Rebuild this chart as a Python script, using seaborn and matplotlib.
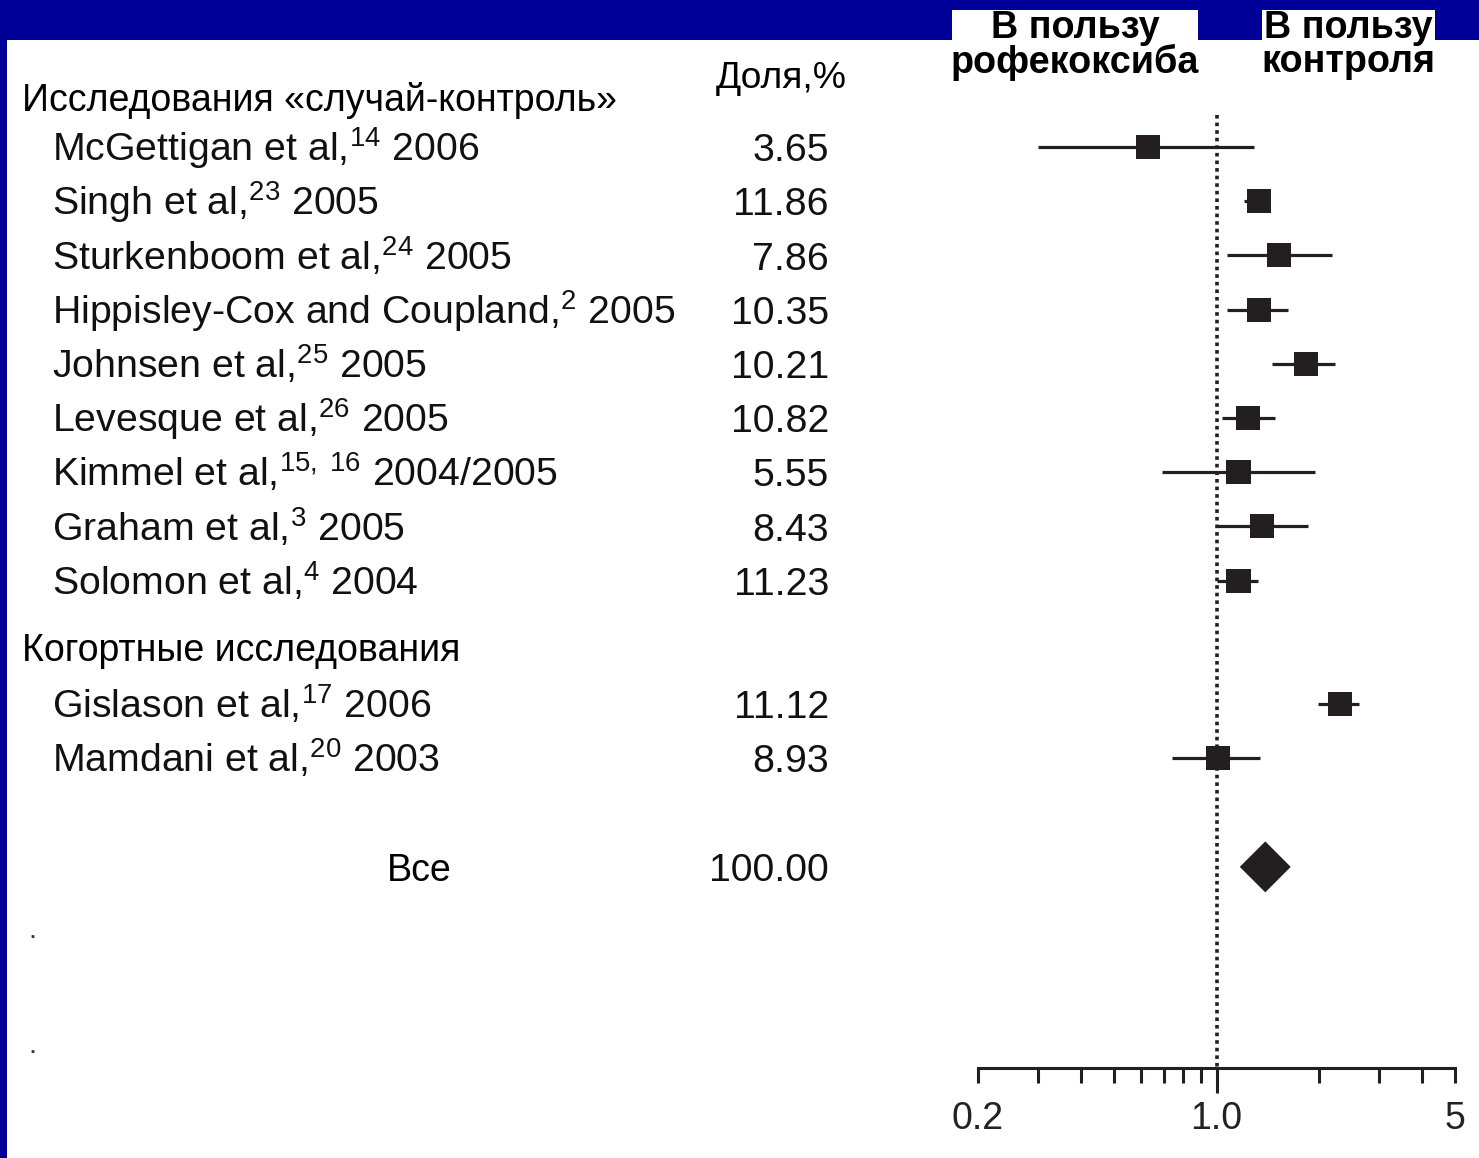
import numpy as np
import pandas as pd
import matplotlib
matplotlib.use("Agg")
import matplotlib.pyplot as plt
import seaborn as sns
from matplotlib.patches import Rectangle
from matplotlib.ticker import FixedLocator, FixedFormatter
from matplotlib.transforms import blended_transform_factory

# ---------------- data ----------------
cc_names = ["McGettigan et al,", "Singh et al,", "Sturkenboom et al,",
            "Hippisley-Cox and Coupland,", "Johnsen et al,", "Levesque et al,",
            "Kimmel et al,", "Graham et al,", "Solomon et al,"]
cc_refs = ["14", "23", "24", "2", "25", "26", "15,\\ 16", "3", "4"]
cc_years = ["2006", "2005", "2005", "2005", "2005", "2005", "2004/2005", "2005", "2004"]
cc_weights = ["3.65", "11.86", "7.86", "10.35", "10.21", "10.82", "5.55", "8.43", "11.23"]
cc_or = [0.63, 1.33, 1.52, 1.33, 1.83, 1.24, 1.16, 1.36, 1.16]
cc_lo = [0.30, 1.20, 1.07, 1.07, 1.45, 1.04, 0.69, 1.00, 1.00]
cc_hi = [1.29, 1.40, 2.18, 1.62, 2.23, 1.48, 1.95, 1.85, 1.32]

co_names = ["Gislason et al,", "Mamdani et al,"]
co_refs = ["17", "20"]
co_years = ["2006", "2003"]
co_weights = ["11.12", "8.93"]
co_or = [2.30, 1.01]
co_lo = [1.99, 0.74]
co_hi = [2.62, 1.34]

pooled_or = 1.39
pooled_lo = 1.17
pooled_hi = 1.65
pooled_weight = "100.00"

header_cc = "Исследования «случай-контроль»"
header_co = "Когортные исследования"
header_weight = "Доля,%"
label_all = "Все"
fav_left = ["В пользу", "рофекоксиба"]
fav_right = ["В пользу", "контроля"]
xticks_all = [0.2, 0.3, 0.4, 0.5, 0.6, 0.7, 0.8, 0.9, 1.0, 2, 3, 4, 5]
xtick_labels = {0.2: "0.2", 1.0: "1.0", 5: "5"}

# ---------------- layout ----------------
W, H = 1479, 1158
cc_rows = list(range(len(cc_names)))
co_header_row = 9.22
co_rows = [10.28, 11.27]
all_row = 13.28
cc_header_row = -0.92
base_off = 0.26  # baseline offset (rows) below visual centre

df = pd.DataFrame({
    "or": cc_or + co_or,
    "lo": cc_lo + co_lo,
    "hi": cc_hi + co_hi,
    "row": cc_rows + co_rows,
})

sns.set_style("white")
plt.rcParams["font.family"] = ["Liberation Sans", "DejaVu Sans"]
plt.rcParams["mathtext.fontset"] = "custom"
plt.rcParams["mathtext.rm"] = "Liberation Sans"
plt.rcParams["mathtext.it"] = "Liberation Sans:italic"
plt.rcParams["mathtext.bf"] = "Liberation Sans:bold"

ink = "#231f20"
blue = "#000099"

fig = plt.figure(figsize=(W / 100, H / 100), dpi=100)
fig.patch.set_facecolor("white")

ax = fig.add_axes([978 / W, 1 - 1068 / H, (1455 - 978) / W, (1068 - 100) / H])
ax.set_facecolor("none")

# CI lines
ax.hlines(df["row"], df["lo"], df["hi"], color=ink, lw=2.3, zorder=2)
# squares
sns.scatterplot(data=df, x="or", y="row", marker="s", s=300, color=ink,
                edgecolor="none", linewidth=0, ax=ax, zorder=3, legend=False)
# pooled diamond
dh = 0.47
ax.fill([pooled_lo, pooled_or, pooled_hi, pooled_or],
        [all_row, all_row - dh, all_row, all_row + dh], color=ink, lw=0, zorder=3)
# reference line
ax.vlines(1.0, -0.59, 16.99, color=ink, lw=2.6, linestyles=(0, (1, 1.1)), zorder=1)

ax.set_xscale("log")
ax.set_xlim(0.2, 5)
ax.set_ylim(16.99, -0.867)
ax.set_xlabel("")
ax.set_ylabel("")
ax.set_yticks([])
for s in ["left", "top", "right"]:
    ax.spines[s].set_visible(False)
ax.spines["bottom"].set_color(ink)
ax.spines["bottom"].set_linewidth(2.2)

ax.xaxis.set_major_locator(FixedLocator([1.0]))
ax.xaxis.set_major_formatter(FixedFormatter(["1.0"]))
minors = [v for v in xticks_all if v != 1.0]
ax.xaxis.set_minor_locator(FixedLocator(minors))
ax.xaxis.set_minor_formatter(FixedFormatter([xtick_labels.get(v, "") for v in minors]))
ax.tick_params(axis="x", which="major", direction="out", length=18, width=2.2,
               color=ink, pad=6, labelsize=27, labelcolor="#222222", bottom=True)
ax.tick_params(axis="x", which="minor", direction="out", length=10.8, width=2.2,
               color=ink, pad=13.2, labelsize=27, labelcolor="#222222", bottom=True)

# ---------------- frame decorations ----------------
fig.add_artist(Rectangle((0, 1 - 40 / H), 1, 40 / H, transform=fig.transFigure,
                         color=blue, lw=0, zorder=0))
fig.add_artist(Rectangle((0, 0), 7 / W, 1, transform=fig.transFigure,
                         color=blue, lw=0, zorder=0))
fig.add_artist(Rectangle((952 / W, 1 - 41 / H), (1198 - 952) / W, 31 / H,
                         transform=fig.transFigure, color="white", lw=0, zorder=1))
fig.add_artist(Rectangle((1262 / W, 1 - 41 / H), (1435 - 1262) / W, 31 / H,
                         transform=fig.transFigure, color="white", lw=0, zorder=1))

def fy(p):
    return 1 - p / H

bold_kw = dict(ha="center", va="center", fontsize=27.2, fontweight="bold",
               color="black", zorder=5)
fig.text(1075 / W, fy(28), fav_left[0], **bold_kw)
fig.text(1075 / W, fy(62), fav_left[1], **bold_kw)
fig.text(1348 / W, fy(28), fav_right[0], **bold_kw)
fig.text(1348 / W, fy(62), fav_right[1], **bold_kw)

fig.text(716 / W, fy(88), header_weight, ha="left", va="baseline", fontsize=26.8,
         color="black")

tr = blended_transform_factory(fig.transFigure, ax.transData)
txt_kw = dict(transform=tr, va="baseline", fontsize=28.3, color="#111111")
hdr_kw = {**txt_kw, "fontsize": 27, "color": "black"}
ax.text(22 / W, cc_header_row + base_off, header_cc, ha="left", **hdr_kw)
ax.text(22 / W, co_header_row + base_off, header_co, ha="left", **hdr_kw)

for name, ref, yr, w, r in zip(cc_names + co_names, cc_refs + co_refs,
                               cc_years + co_years, cc_weights + co_weights,
                               cc_rows + co_rows):
    ax.text(52 / W, r + base_off, f"{name}$^{{\\mathrm{{{ref}}}}}$ {yr}", ha="left", **txt_kw)
    ax.text(829 / W, r + base_off, w, ha="right", **txt_kw)

ax.text(419 / W, all_row + base_off, label_all, ha="center", **hdr_kw)
ax.text(829 / W, all_row + base_off, pooled_weight, ha="right", **txt_kw)

# stray bullet marks on the left
for p in (937, 1052):
    fig.text(32 / W, fy(p), "\u25aa", ha="center", va="center", fontsize=8, color="#333333")

fig.savefig("out.png", dpi=100, facecolor="white")
